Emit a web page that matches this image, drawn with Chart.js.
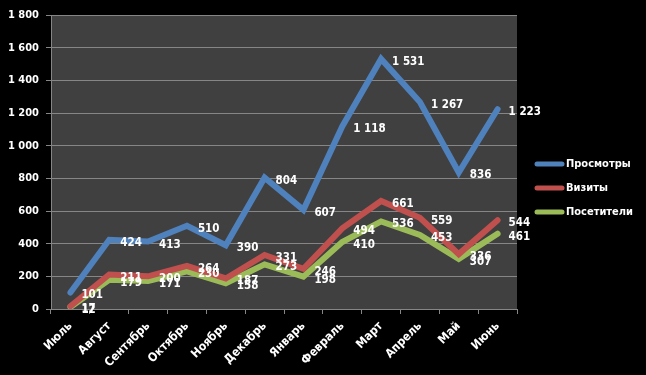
<!DOCTYPE html>
<html>
<head>
<meta charset="utf-8">
<script src="https://cdn.jsdelivr.net/npm/chart.js@4/dist/chart.umd.min.js"></script>
<style>
  body { margin: 0; background: #000; }
  #wrap { width: 646px; height: 375px; }
</style>
</head>
<body>
<div id="wrap"><canvas id="statsChart"></canvas></div>
<script>
// Data
const months = ['Июль', 'Август', 'Сентябрь', 'Октябрь', 'Ноябрь', 'Декабрь', 'Январь', 'Февраль', 'Март', 'Апрель', 'Май', 'Июнь'];
const views = [101, 424, 413, 510, 390, 804, 607, 1118, 1531, 1267, 836, 1223];
const visits = [17, 211, 200, 264, 187, 331, 246, 494, 661, 559, 336, 544];
const visitors = [12, 179, 171, 230, 158, 273, 198, 410, 536, 453, 307, 461];
const yTicks = [0, 200, 400, 600, 800, 1000, 1200, 1400, 1600, 1800];

const FONT = '"DejaVu Sans Condensed", "DejaVu Sans", sans-serif';
const fmt = v => String(v).replace(/\B(?=(\d{3})+(?!\d))/g, ' ');

// Plot area background
const plotBg = {
  id: 'plotBg',
  beforeDraw(chart) {
    const { ctx, chartArea: a } = chart;
    ctx.save();
    ctx.fillStyle = '#404040';
    ctx.fillRect(a.left, a.top, a.right - a.left, a.bottom - a.top);
    ctx.restore();
  }
};

// Value labels next to each point
const valueLabels = {
  id: 'valueLabels',
  afterDatasetsDraw(chart) {
    const ctx = chart.ctx;
    ctx.save();
    ctx.font = 'bold 11.5px ' + FONT;
    ctx.fillStyle = '#fff';
    ctx.textAlign = 'left';
    ctx.textBaseline = 'middle';
    chart.data.datasets.forEach((ds, i) => {
      chart.getDatasetMeta(i).data.forEach((pt, j) => {
        ctx.fillText(fmt(ds.data[j]), pt.x + 11, pt.y + 3);
      });
    });
    ctx.restore();
  }
};

// Legend on the right, Excel style
const sideLegend = {
  id: 'sideLegend',
  afterDraw(chart) {
    const ctx = chart.ctx;
    ctx.save();
    ctx.font = 'bold 11px ' + FONT;
    ctx.textBaseline = 'middle';
    chart.data.datasets.forEach((ds, i) => {
      const y = 164 + i * 24;
      ctx.strokeStyle = ds.borderColor;
      ctx.lineWidth = 5;
      ctx.lineCap = 'round';
      ctx.beginPath();
      ctx.moveTo(537, y);
      ctx.lineTo(562, y);
      ctx.stroke();
      ctx.fillStyle = '#fff';
      ctx.fillText(ds.label, 566, y);
    });
    ctx.restore();
  }
};

const ctx = document.getElementById('statsChart').getContext('2d');

const statsChart = new Chart(ctx, {
  type: 'line',
  data: {
    labels: months,
    datasets: [
      { label: 'Просмотры', data: views, borderColor: '#4F81BD', backgroundColor: '#4F81BD' },
      { label: 'Визиты', data: visits, borderColor: '#C0504D', backgroundColor: '#C0504D' },
      { label: 'Посетители', data: visitors, borderColor: '#9BBB59', backgroundColor: '#9BBB59' }
    ]
  },
  options: {
    responsive: true,
    maintainAspectRatio: false,
    animation: false,
    layout: { padding: { top: 15, right: 129, left: 0, bottom: 0 } },
    elements: {
      line: { borderWidth: 6, tension: 0, borderCapStyle: 'round' },
      point: { radius: 0, hoverRadius: 0 }
    },
    plugins: {
      legend: { display: false },
      tooltip: { enabled: false }
    },
    scales: {
      x: {
        offset: true,
        afterFit: s => { s.height = 66; },
        grid: { offset: true, drawOnChartArea: false, drawTicks: true, tickLength: 5, color: '#868686' },
        border: { color: '#868686' },
        ticks: {
          color: '#fff',
          font: { family: FONT, size: 12, weight: 'bold' },
          minRotation: 45,
          maxRotation: 45,
          padding: 5,
          autoSkip: false
        }
      },
      y: {
        min: 0,
        max: 1800,
        afterFit: s => { s.width = 51; },
        afterBuildTicks: s => { s.ticks = yTicks.map(v => ({ value: v })); },
        grid: { color: '#868686', tickLength: 5 },
        border: { color: '#868686' },
        ticks: {
          color: '#fff',
          font: { family: FONT, size: 11, weight: 'bold' },
          padding: 7,
          callback: v => fmt(v)
        }
      }
    }
  },
  plugins: [plotBg, valueLabels, sideLegend]
});
</script>
</body>
</html>
